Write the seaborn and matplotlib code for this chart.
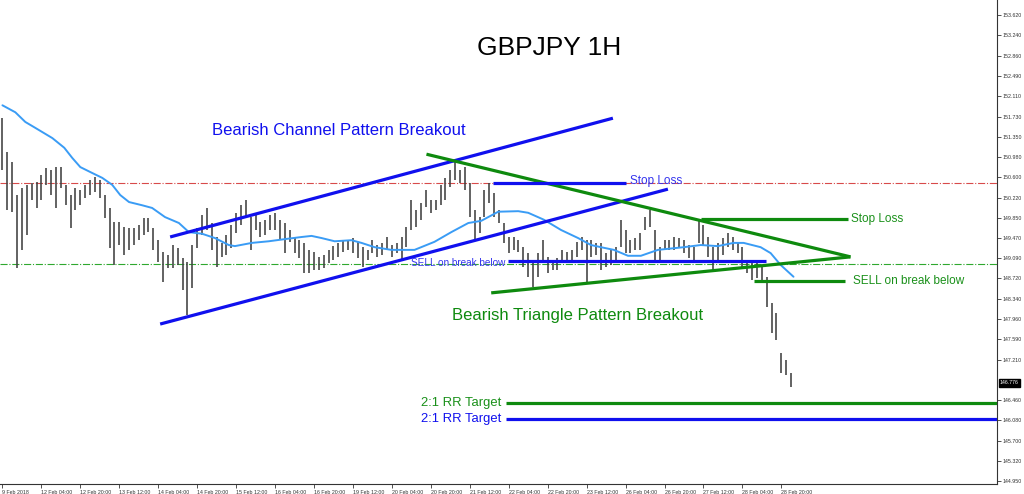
import matplotlib
matplotlib.use("Agg")
import matplotlib.pyplot as plt
import seaborn as sns
import pandas as pd

# H1 chart, one bar drawn every 2 hours (hour offset from 9 Feb 2018 12:00)
highs = [151.70, 151.07, 150.89, 150.27, 150.40, 150.46, 150.49, 150.51, 150.64, 150.77,
         150.74, 150.79, 150.79, 150.46, 150.27, 150.40, 150.37, 150.46, 150.55, 150.61,
         150.55, 150.27, 150.03, 149.77, 149.77, 149.68, 149.66, 149.66, 149.71, 149.84,
         149.84, 149.66, 149.43, 149.21, 149.16, 149.34, 149.29, 149.10, 149.02, 149.34,
         149.66, 149.90, 150.03, 149.75, 149.49, 149.38, 149.53, 149.71, 149.94, 150.08,
         150.18, 149.86, 149.94, 149.77, 149.81, 149.90, 149.94, 149.81, 149.75, 149.62,
         149.49, 149.43, 149.38, 149.25, 149.21, 149.12, 149.16, 149.25, 149.32, 149.38,
         149.43, 149.43, 149.47, 149.40, 149.30, 149.25, 149.43, 149.34, 149.38, 149.49,
         149.34, 149.38, 149.49, 149.68, 150.18, 149.99, 150.12, 150.37, 150.18, 150.18,
         150.46, 150.59, 150.74, 150.89, 150.74, 150.79, 150.49, 149.99, 149.86, 150.37,
         150.49, 150.31, 149.99, 149.75, 149.49, 149.49, 149.43, 149.30, 149.19, 149.06,
         149.19, 149.43, 149.12, 149.06, 149.10, 149.25, 149.21, 149.25, 149.40, 149.49,
         149.43, 149.43, 149.38, 149.38, 149.19, 149.25, 149.30, 149.81, 149.62, 149.43,
         149.47, 149.56, 149.86, 149.99, 149.62, 149.30, 149.43, 149.43, 149.49, 149.47,
         149.43, 149.34, 149.30, 149.81, 149.71, 149.49, 149.30, 149.38, 149.47, 149.56,
         149.49, 149.38, 149.30, 149.06, 149.01, 149.01, 148.97, 148.75, 148.26, 148.08,
         147.33, 147.20, 146.96]
lows = [150.74, 149.99, 149.95, 148.91, 149.25, 149.53, 150.18, 150.03, 150.18, 150.46,
        150.27, 150.03, 150.40, 150.08, 149.66, 149.99, 150.08, 150.21, 150.27, 150.33,
        150.21, 149.84, 149.29, 148.97, 149.34, 149.16, 149.25, 149.34, 149.43, 149.53,
        149.58, 149.25, 149.02, 148.65, 148.91, 148.91, 148.97, 148.50, 148.04, 148.54,
        149.29, 149.53, 149.62, 149.25, 148.93, 149.12, 149.16, 149.29, 149.56, 149.71,
        149.86, 149.25, 149.62, 149.49, 149.53, 149.62, 149.62, 149.43, 149.19, 149.40,
        149.19, 149.10, 148.82, 148.82, 148.88, 148.88, 148.91, 149.01, 149.06, 149.12,
        149.21, 149.25, 149.19, 149.10, 148.93, 149.06, 149.19, 149.12, 149.16, 149.25,
        149.12, 149.19, 149.06, 149.30, 149.62, 149.68, 149.81, 150.05, 149.94, 149.99,
        150.08, 150.18, 150.42, 150.55, 150.49, 150.37, 149.86, 149.43, 149.56, 149.86,
        150.12, 149.86, 149.75, 149.38, 149.19, 149.25, 149.21, 148.93, 148.75, 148.56,
        148.75, 149.06, 148.82, 148.88, 148.88, 149.01, 149.01, 149.02, 149.12, 149.25,
        148.63, 149.12, 149.16, 148.88, 148.93, 148.97, 149.01, 149.30, 149.19, 149.19,
        149.25, 149.25, 149.62, 149.68, 149.01, 149.06, 149.25, 149.25, 149.25, 149.29,
        149.19, 149.10, 149.06, 149.38, 149.34, 149.12, 148.88, 149.06, 149.16, 149.30,
        149.25, 149.19, 148.93, 148.82, 148.69, 148.73, 148.63, 148.19, 147.70, 147.57,
        146.96, 146.92, 146.70]
bar_hours = [2 * i for i in range(len(highs))]

# moving average (light blue line)
ma_hours = [0, 5.3, 9.4, 13.5, 20.5, 25.4, 28.7, 32.0, 36.9, 41.0, 45.1, 48.4, 52.0, 57.4,
            61.5, 66.8, 72.5, 76.6, 82.0, 87.3, 93.0, 95.5, 102.5, 109.4, 116.0, 123.0,
            127.0, 131.1, 136.5, 143.4, 147.5, 152.9, 159.8, 163.9, 169.3, 177.5, 184.4,
            191.4, 196.7, 203.7, 211.9, 216.0, 222.5, 229.5, 236.5, 241.8, 245.9, 251.2,
            257.0, 262.3, 269.3, 279.9, 286.9, 293.9, 300.4, 304.5, 311.5, 315.6, 319.7, 325.0]
ma_values = [151.94, 151.81, 151.63, 151.52, 151.33, 151.15, 150.96, 150.79, 150.68, 150.59,
             150.46, 150.27, 150.14, 150.08, 150.03, 149.86, 149.75, 149.58, 149.55, 149.47,
             149.34, 149.32, 149.38, 149.41, 149.45, 149.49, 149.51, 149.47, 149.41, 149.43,
             149.38, 149.30, 149.25, 149.25, 149.25, 149.40, 149.58, 149.75, 149.79, 149.96,
             149.97, 149.94, 149.81, 149.62, 149.47, 149.34, 149.30, 149.25, 149.14, 149.14,
             149.25, 149.30, 149.34, 149.32, 149.38, 149.38, 149.30, 149.19, 148.97, 148.75]

# price axis and time axis labels
y_ticks = [153.620, 153.240, 152.860, 152.490, 152.110, 151.730, 151.350, 150.980, 150.600,
           150.220, 149.850, 149.470, 149.090, 148.720, 148.340, 147.960, 147.590, 147.210,
           146.460, 146.080, 145.700, 145.320, 144.950]
x_tick_hours = list(range(0, 321, 16))
x_tick_labels = ["9 Feb 2018", "12 Feb 04:00", "12 Feb 20:00", "13 Feb 12:00", "14 Feb 04:00",
                 "14 Feb 20:00", "15 Feb 12:00", "16 Feb 04:00", "16 Feb 20:00", "19 Feb 12:00",
                 "20 Feb 04:00", "20 Feb 20:00", "21 Feb 12:00", "22 Feb 04:00", "22 Feb 20:00",
                 "23 Feb 12:00", "26 Feb 04:00", "26 Feb 20:00", "27 Feb 12:00", "28 Feb 04:00",
                 "28 Feb 20:00"]
last_price = 146.776

# pattern lines (hour, price) and trade levels
channel_upper = ([68.9, 250.8], [149.49, 151.70])
channel_lower = ([64.8, 273.4], [147.87, 150.38])
triangle_upper = ([174.2, 348.4], [151.03, 149.12])
triangle_lower = ([200.8, 348.4], [148.45, 149.12])
red_level = 150.49
green_level = 148.99
blue_stop, blue_sell = 150.49, 149.04
green_stop, green_sell = 149.82, 148.67
green_target, blue_target = 146.40, 146.10

BLUE = "#1010ee"
GREEN = "#0e8a0e"
X_MAX = 408.6

sns.set_style("white")
plt.rcParams["font.family"] = ["Liberation Sans", "DejaVu Sans"]

fig = plt.figure(figsize=(10.24, 4.94), dpi=100)
ax = fig.add_axes([0, 10 / 494, 997 / 1024, 484 / 494])

# OHLC bars as high-low sticks
ax.vlines(bar_hours, lows, highs, color="#404040", lw=1.15, zorder=2)

ma = pd.DataFrame({"hour": ma_hours, "ma": ma_values})
sns.lineplot(data=ma, x="hour", y="ma", color="#3a9cf5", lw=1.4, ax=ax, zorder=3)

ax.axhline(red_level, color="#d84a4a", lw=0.8, ls="-.", zorder=1)
ax.axhline(green_level, color="#2fa82f", lw=0.8, ls="-.", zorder=1)

for xs, ys, c in [(channel_upper[0], channel_upper[1], BLUE), (channel_lower[0], channel_lower[1], BLUE),
                  (triangle_upper[0], triangle_upper[1], GREEN), (triangle_lower[0], triangle_lower[1], GREEN)]:
    ax.plot(xs, ys, color=c, lw=2.3, solid_capstyle="butt", zorder=4)

ax.hlines(blue_stop, 201.6, 256.1, color=BLUE, lw=2.3, zorder=4)
ax.hlines(blue_sell, 207.8, 313.5, color=BLUE, lw=2.3, zorder=4)
ax.hlines(green_stop, 286.9, 347.5, color=GREEN, lw=2.3, zorder=4)
ax.hlines(green_sell, 308.6, 346.3, color=GREEN, lw=2.3, zorder=4)
ax.hlines(green_target, 207.0, X_MAX, color=GREEN, lw=2.3, zorder=4)
ax.hlines(blue_target, 207.0, X_MAX, color=BLUE, lw=2.3, zorder=4)

# annotations
ax.text(224.6, 153.0, "GBPJPY 1H", fontsize=19, color="black", ha="center", va="center")
ax.text(86.0, 151.48, "Bearish Channel Pattern Breakout", fontsize=12, color=BLUE, va="center")
ax.text(184.8, 148.03, "Bearish Triangle Pattern Breakout", fontsize=12, color=GREEN, va="center")
ax.text(257.8, 150.53, "Stop Loss", fontsize=8.5, color="#3333ee", va="center")
ax.text(168.0, 149.00, "SELL on break below", fontsize=7.2, color="#3333ee", va="center")
ax.text(348.8, 149.82, "Stop Loss", fontsize=8.5, color="#1a901a", va="center")
ax.text(349.6, 148.67, "SELL on break below", fontsize=8.5, color="#1a901a", va="center")
ax.text(205.0, green_target, "2:1 RR Target", fontsize=9.4, color="#1a901a", ha="right", va="center")
ax.text(205.0, blue_target, "2:1 RR Target", fontsize=9.4, color=BLUE, ha="right", va="center")

ax.set_xlim(-1, X_MAX)
ax.set_ylim(144.894, 153.899)
ax.set_xlabel("")
ax.set_ylabel("")

ax.yaxis.tick_right()
ax.set_yticks(y_ticks)
ax.set_yticklabels([f"{v:.3f}" for v in y_ticks])
ax.set_xticks(x_tick_hours)
ax.set_xticklabels(x_tick_labels)
for lbl in ax.get_xticklabels():
    lbl.set_horizontalalignment("left")
ax.tick_params(axis="both", direction="out", length=3, width=0.6, color="#333333",
               labelsize=3.8, pad=1, labelcolor="#333333")
ax.tick_params(axis="y", right=True, left=False)
ax.tick_params(axis="x", bottom=True)

for side in ["top", "left"]:
    ax.spines[side].set_visible(False)
for side in ["right", "bottom"]:
    ax.spines[side].set_color("#333333")
    ax.spines[side].set_linewidth(0.8)

ax.text(1.003, last_price, f"{last_price:.3f}", transform=ax.get_yaxis_transform(),
        fontsize=3.8, color="white", va="center", ha="left",
        bbox=dict(boxstyle="square,pad=0.25", fc="black", ec="black"))

fig.savefig("out.png", dpi=100, facecolor="white")
